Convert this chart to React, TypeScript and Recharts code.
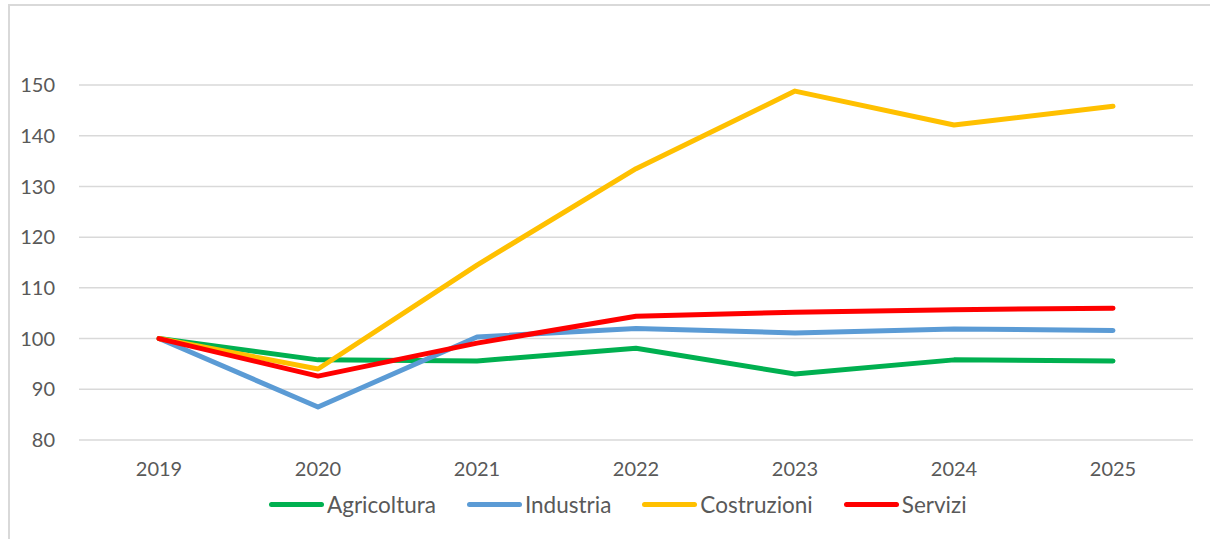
import React from "react";
import { LineChart, Line, XAxis, YAxis, CartesianGrid } from "recharts";

const years = ["2019", "2020", "2021", "2022", "2023", "2024", "2025"];
const agricoltura = [100, 95.8, 95.6, 98.1, 93.0, 95.8, 95.6];
const industria = [100, 86.5, 100.3, 102.0, 101.1, 101.9, 101.6];
const costruzioni = [100, 94.0, 114.5, 133.5, 148.8, 142.1, 145.8];
const servizi = [100, 92.6, 99.1, 104.4, 105.2, 105.7, 106.0];
const yTicks = [80, 90, 100, 110, 120, 130, 140, 150];

const data = years.map((year, i) => ({
  year,
  Agricoltura: agricoltura[i],
  Industria: industria[i],
  Costruzioni: costruzioni[i],
  Servizi: servizi[i],
}));

const series = [
  { key: "Agricoltura", color: "#00B050" },
  { key: "Industria", color: "#5B9BD5" },
  { key: "Costruzioni", color: "#FFC000" },
  { key: "Servizi", color: "#FF0000" },
];

const FONT = "Lato, 'Open Sans', sans-serif";
const tickStyle = { fill: "#595959", fontSize: 20, fontFamily: FONT };

function ChartLegend() {
  return (
    <div
      style={{
        position: "absolute",
        top: 491,
        left: 0,
        width: 1210,
        display: "flex",
        alignItems: "center",
        paddingLeft: 269,
        fontFamily: FONT,
        boxSizing: "border-box",
      }}
    >
      {series.map((s) => (
        <div key={s.key} style={{ display: "flex", alignItems: "center", marginRight: 31 }}>
          <span style={{ display: "inline-block", width: 55, height: 5, borderRadius: 3, background: s.color }} />
          <span style={{ marginLeft: 3, fontSize: 22.5, color: "#595959" }}>{s.key}</span>
        </div>
      ))}
    </div>
  );
}

export default function App() {
  return (
    <div style={{ position: "absolute", left: 0, top: 0, width: 1210, height: 539, background: "#fff" }}>
      <div
        style={{
          position: "absolute",
          left: 8,
          top: 4,
          right: 0,
          bottom: 0,
          borderLeft: "2px solid #d9d9d9",
          borderTop: "2px solid #d9d9d9",
        }}
      />
      <LineChart width={1210} height={539} data={data} margin={{ top: 85, right: 17, left: 0, bottom: 69 }}>
        <CartesianGrid vertical={false} stroke="#d9d9d9" strokeWidth={1.5} />
        <XAxis
          dataKey="year"
          axisLine={false}
          tickLine={false}
          tickSize={0}
          tickMargin={22}
          padding={{ left: 80, right: 80 }}
          tick={tickStyle}
          height={30}
        />
        <YAxis
          domain={[80, 150]}
          ticks={yTicks}
          width={79}
          axisLine={false}
          tickLine={false}
          tickSize={0}
          tickMargin={24}
          tick={tickStyle}
        />
        {series.map((s) => (
          <Line
            key={s.key}
            type="linear"
            dataKey={s.key}
            stroke={s.color}
            strokeWidth={5}
            strokeLinecap="round"
            strokeLinejoin="round"
            dot={false}
            isAnimationActive={false}
          />
        ))}
      </LineChart>
      <ChartLegend />
    </div>
  );
}
